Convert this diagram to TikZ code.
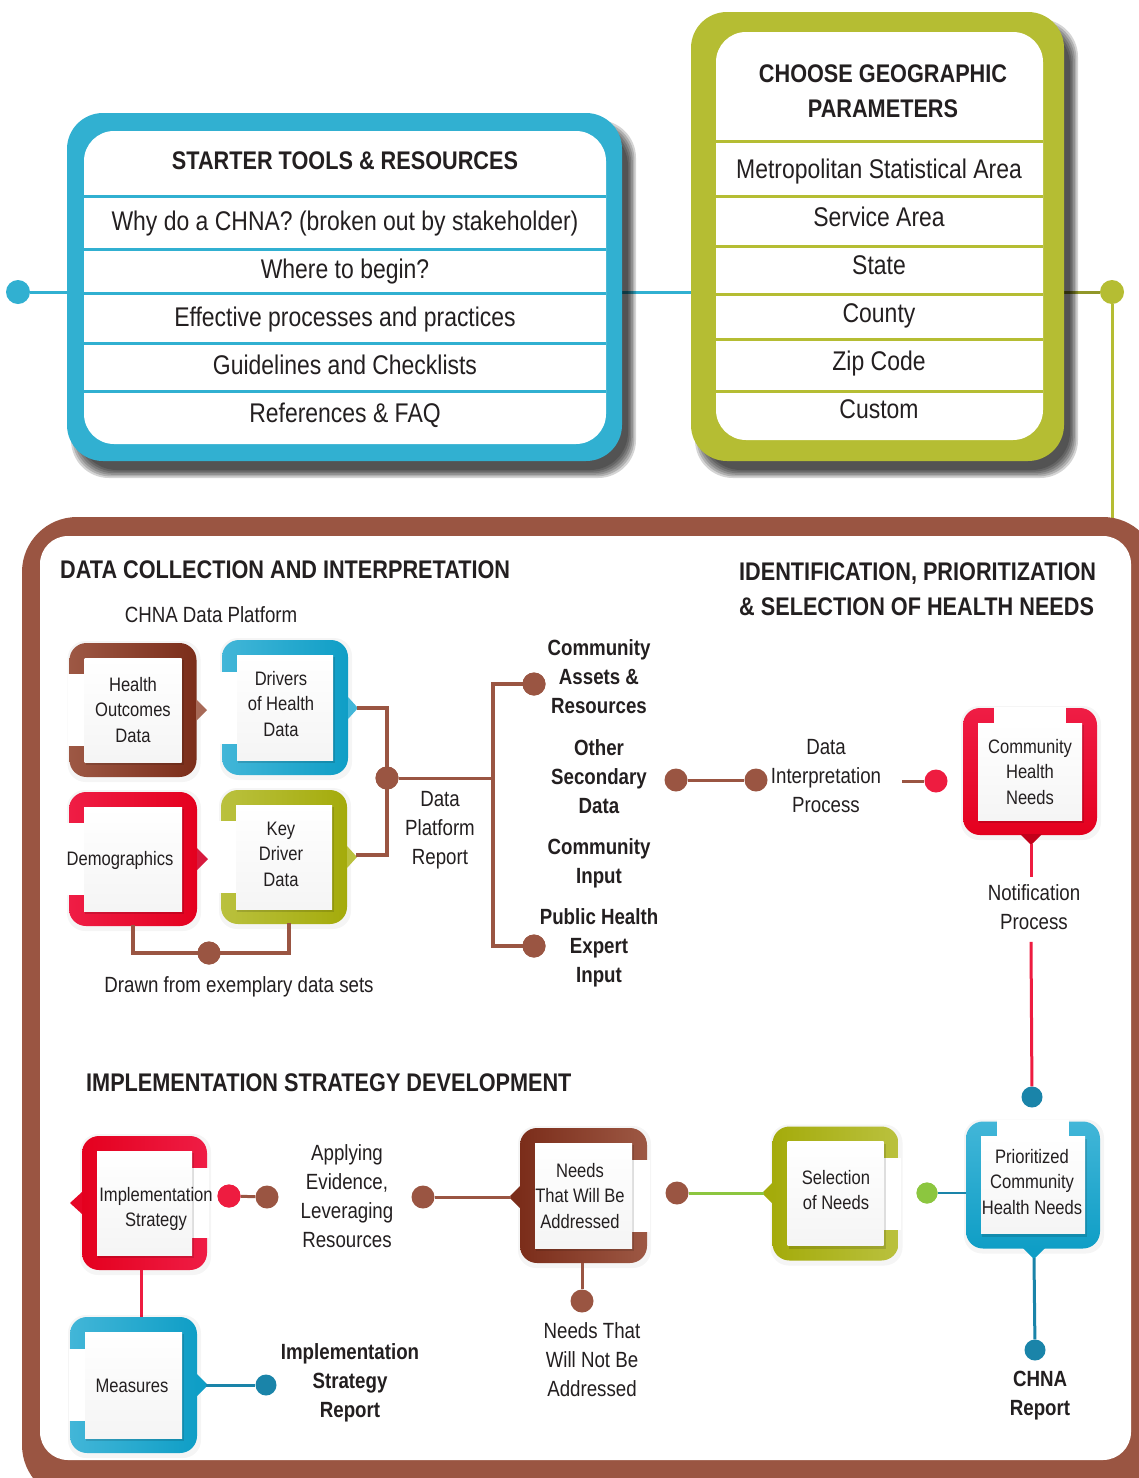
\documentclass[tikz,border=0pt]{standalone}
\usepackage{fontspec}
\setmainfont{Liberation Sans}[FakeStretch=0.85]
\usetikzlibrary{calc}
\definecolor{txt}{HTML}{231F20}
\definecolor{tblue}{HTML}{31B0D1}
\definecolor{tgreen}{HTML}{B5BD33}
\definecolor{fbrown}{HTML}{9A5542}
\definecolor{brL}{HTML}{9D5844}
\definecolor{brD}{HTML}{7B2D1A}
\definecolor{blL}{HTML}{42B6D8}
\definecolor{blD}{HTML}{0F9EC6}
\definecolor{rdL}{HTML}{EF1D45}
\definecolor{rdD}{HTML}{E4001E}
\definecolor{gnL}{HTML}{BAC13E}
\definecolor{gnD}{HTML}{A4AB0B}
\definecolor{dblue}{HTML}{1A84A9}
\definecolor{lblue}{HTML}{2A9CC2}
\definecolor{lime}{HTML}{8CC63F}
\definecolor{redl}{HTML}{EE1C40}

\newcommand\fTop{\fontsize{27}{32}\selectfont}
\newcommand\fHead{\fontsize{25.5}{35}\selectfont\bfseries}
\newcommand\fMid{\fontsize{22}{29}\selectfont}
\newcommand\fMidB{\fontsize{22}{29}\selectfont\bfseries}
\newcommand\fBox{\fontsize{19.5}{25.5}\selectfont}

% #1 name, #2 cx, #3 cy, #4 half width, #5 half height, #6 shading, #7 gap rectangle (local)
\newcommand\cfb[7]{%
  \begin{scope}[shift={(#2,#3)}]
    \fill[black,opacity=0.04,rounded corners=18pt] (-#4-2,-#5-2) rectangle (#4+4,#5+5);
    \shade[rounded corners=17pt,#6] (-#4,-#5) rectangle (#4,#5);
    \fill[white] #7;
    \fill[black,opacity=0.13] (-#4+16,-#5+17) rectangle (#4-13,#5-12);
    \node[inner sep=0pt, minimum width={(2*#4-30)*1pt}, minimum height={(2*#5-30)*1pt},
          top color=white, bottom color=black!4] (#1) at (0,0) {};
  \end{scope}}

\newcommand\bigshadow[4]{%
  \foreach \i in {0,...,5} {
    \fill[black,opacity=0.17,rounded corners=38pt]
      (#1+9-5+1.6*\i,#2+12-5+1.6*\i) rectangle (#3+9+5-1.6*\i,#4+12+5-1.6*\i);
  }}

\tikzset{
  bdot/.style={circle, fill=#1, minimum size=23pt, inner sep=0pt},
  sdot/.style={circle, fill=#1, minimum size=21pt, inner sep=0pt},
  lbl/.style={text=txt, align=center, inner sep=0pt},
  sline/.style={text height=1.31em, text depth=0pt},
  brl/.style={draw=fbrown, line width=4.5pt},
  brt/.style={draw=fbrown, line width=3pt},
  rdl/.style={draw=redl, line width=3pt},
}

\begin{document}
\begin{tikzpicture}[x=1pt,y=-1pt]
\useasboundingbox (0,0) rectangle (1139,1478);
\fill[white] (0,0) rectangle (1139,1478);

% ---------- top connectors ----------
\node[bdot=tblue, minimum size=24pt] (d1) at (18,292) {};
\coordinate (tlW) at (67,292);
\coordinate (tlE) at (622,292);
\coordinate (grW) at (691,292);
\coordinate (grE) at (1064,292);
\node[bdot=tgreen, minimum size=24pt] (d2) at (1112,292) {};
\coordinate (frT) at (1112,522);
\draw[draw=tblue, line width=3pt] (d1) -- (tlW);
\draw[draw=tblue, line width=3pt] (tlE) -- (grW);
\draw[draw=tgreen!80!black, line width=3pt] (grE) -- (d2);
\draw[draw=tgreen, line width=3pt] (d2) -- (frT);

% ---------- starter tools box ----------
\bigshadow{67}{113}{622}{461}
\fill[tblue, rounded corners=36pt] (67,113) rectangle (622,461);
\fill[white, rounded corners=30pt] (84,131) rectangle (606,444);
\foreach \yy in {196,249,293,343,391} \draw[tblue, line width=3pt] (84,\yy) -- (606,\yy);
\node[lbl, font=\fHead, sline] (tlh) at (345,163) {STARTER TOOLS \& RESOURCES};
\node[lbl, font=\fTop, sline] (tr1) at (345,224) {Why do a CHNA? (broken out by stakeholder)};
\node[lbl, font=\fTop, sline] (tr2) at (345,272) {Where to begin?};
\node[lbl, font=\fTop, sline] (tr3) at (345,320) {Effective processes and practices};
\node[lbl, font=\fTop, sline] (tr4) at (345,368) {Guidelines and Checklists};
\node[lbl, font=\fTop, sline] (tr5) at (345,416) {References \& FAQ};

% ---------- geographic box ----------
\bigshadow{691}{12}{1064}{461}
\fill[tgreen, rounded corners=36pt] (691,12) rectangle (1064,461);
\fill[white, rounded corners=30pt] (716,32) rectangle (1043,440);
\foreach \yy in {141,196,246,294,339,391} \draw[tgreen, line width=3pt] (716,\yy) -- (1043,\yy);
\node[lbl, font=\fHead] (grh) at (883,91) {CHOOSE GEOGRAPHIC\\PARAMETERS};
\node[lbl, font=\fTop, sline] (gr1) at (879,172) {Metropolitan Statistical Area};
\node[lbl, font=\fTop, sline] (gr2) at (879,220) {Service Area};
\node[lbl, font=\fTop, sline] (gr3) at (879,268) {State};
\node[lbl, font=\fTop, sline] (gr4) at (879,316) {County};
\node[lbl, font=\fTop, sline] (gr5) at (879,364) {Zip Code};
\node[lbl, font=\fTop, sline] (gr6) at (879,412) {Custom};

% ---------- big brown frame ----------
\fill[fbrown, rounded corners=55pt] (22,517) rectangle (1158,1500);
\fill[white, rounded corners=28pt] (40,536) rectangle (1131,1460);

\node[lbl, font=\fHead, sline, anchor=west] (s1) at (60,572) {DATA COLLECTION AND INTERPRETATION};
\node[lbl, font=\fHead, align=left, anchor=north west] (s2) at (739,562) {IDENTIFICATION, PRIORITIZATION\\\& SELECTION OF HEALTH NEEDS};
\node[lbl, font=\fMid, sline] (cdp) at (211,616) {CHNA Data Platform};
\node[lbl, font=\fHead, sline, anchor=west] (s3) at (86,1085) {IMPLEMENTATION STRATEGY DEVELOPMENT};

% ---------- data collection boxes ----------
\cfb{ho}{133}{710}{63.5}{67}{left color=brL, right color=brD}{(-65,-36) rectangle (-47,36)}
\cfb{dh}{285}{707.5}{63}{67.5}{left color=blL, right color=blD}{(-65,-36) rectangle (-47,36)}
\cfb{dm}{133}{859}{64}{67}{left color=rdL, right color=rdD}{(-66,-36) rectangle (-48,36)}
\cfb{kd}{284}{857}{63}{67}{left color=gnL, right color=gnD}{(-65,-36) rectangle (-47,36)}

\fill[brL!90!white] (196,699) -- (207,710) -- (196,721) -- cycle;
\fill[blL] (348,697) -- (358,708) -- (348,719) -- cycle;
\fill[rdL!90!black] (197,848) -- (208,859) -- (197,870) -- cycle;
\fill[gnL] (347,846) -- (357,857) -- (347,868) -- cycle;

\node[lbl, font=\fBox] (hot) at (133,710) {Health\\Outcomes\\Data};
\node[lbl, font=\fBox] (dht) at (281,704) {Drivers\\of Health\\Data};
\node[lbl, font=\fBox, sline] (dmt) at (120,859) {Demographics};
\node[lbl, font=\fBox] (kdt) at (281,854) {Key\\Driver\\Data};

\coordinate (dhtip) at (357,708);
\coordinate (kdtip) at (356,855);
\node[bdot=fbrown] (dp) at (387,778) {};
\draw[brl] (dhtip) -| (dp.center) |- (kdtip);
\node[bdot=fbrown] (dpb) at (387,778) {};
\coordinate (br1) at (493,778);
\node[bdot=fbrown] (ca) at (534,684) {};
\node[bdot=fbrown] (ph) at (534,946) {};
\draw[brt] (dp) -- (br1);
\draw[brl] (ca.center) -| (br1) |- (ph.center);
\node[bdot=fbrown] (ca2) at (534,684) {};
\node[bdot=fbrown] (ph2) at (534,946) {};

\coordinate (dmB) at (133,925);
\coordinate (kdB) at (289,923);
\node[bdot=fbrown] (dd) at (209,953) {};
\draw[brl] (dmB) |- (dd.center) -| (kdB);
\node[bdot=fbrown] (dd2) at (209,953) {};
\node[lbl, font=\fMid, sline] (dft) at (239,986) {Drawn from exemplary data sets};

\node[lbl, font=\fMid] (dpr) at (440,830) {Data\\Platform\\Report};
\node[lbl, font=\fMidB] (cat) at (599,677) {Community\\Assets \&\\Resources};
\node[lbl, font=\fMidB] (ost) at (599,777) {Other\\Secondary\\Data};
\node[lbl, font=\fMidB] (cit) at (599,863) {Community\\Input};
\node[lbl, font=\fMidB] (pht) at (599,948) {Public Health\\Expert\\Input};

% ---------- interpretation ----------
\node[bdot=fbrown] (os1) at (676,780) {};
\node[bdot=fbrown] (os2) at (756,780) {};
\draw[brt] (os1) -- (os2);
\node[lbl, font=\fMid] (dit) at (826,776) {Data\\Interpretation\\Process};
\coordinate (di) at (902,781);
\node[bdot=redl] (rn) at (936,781) {};
\draw[brt] (di) -- (rn);

\cfb{chn}{1030}{771.5}{67}{63.5}{top color=rdL, bottom color=rdD}{(-36,-65) rectangle (36,-47)}
\fill[rdD!85!black] (1020,834) -- (1031,845) -- (1042,834) -- cycle;
\node[lbl, font=\fBox] (chnt) at (1030,772) {Community\\Health\\Needs};
\coordinate (chntip) at (1031,844);
\node[lbl, font=\fMid] (np) at (1034,907) {Notification\\Process};
\node[sdot=dblue] (pd) at (1032,1097) {};
\draw[rdl] (chntip) -- ($(chntip |- np.north)+(0,-7)$);
\draw[rdl] ($(pd.center |- np.south)+(-1,12)$) -- (pd);

% ---------- prioritized ----------
\cfb{pch}{1033}{1185}{67}{63.5}{top color=blL, bottom color=blD}{(-36,-65) rectangle (36,-47)}
\fill[blD] (1023,1248) -- (1034,1259) -- (1045,1248) -- cycle;
\node[lbl, font=\fBox] (pcht) at (1032,1182) {Prioritized\\Community\\Health Needs};
\coordinate (pchtip) at (1034,1258);
\node[sdot=dblue] (cr) at (1035,1350) {};
\draw[draw=dblue, line width=3pt] (pchtip) -- (cr);
\node[lbl, font=\fMidB] (crt) at (1040,1396) {CHNA\\Report};
\coordinate (pchW) at (966,1193);
\node[sdot=lime] (gd) at (927,1193) {};
\draw[draw=dblue, line width=2.5pt] (gd) -- (pchW);
\node[sdot=lime] (gd2) at (927,1193) {};

% ---------- selection ----------
\cfb{sel}{835.5}{1193.5}{63}{67}{left color=gnD, right color=gnL}{(47,-36) rectangle (65,36)}
\fill[gnD] (773,1182) -- (762,1193) -- (773,1204) -- cycle;
\node[lbl, font=\fBox] (selt) at (836,1190) {Selection\\of Needs};
\coordinate (seltip) at (764,1193);
\node[bdot=fbrown] (nb) at (677,1193) {};
\draw[draw=lime, line width=3pt] (nb) -- (seltip);

% ---------- needs addressed ----------
\cfb{nwa}{583.5}{1195.5}{63.5}{67.5}{left color=brD, right color=brL}{(47,-36) rectangle (66,36)}
\fill[brD] (520,1186) -- (509,1197) -- (520,1208) -- cycle;
\node[lbl, font=\fBox] (nwat) at (580,1196) {Needs\\That Will Be\\Addressed};
\coordinate (nwatip) at (511,1197);
\node[bdot=fbrown] (ae) at (423,1197) {};
\draw[brt] (ae) -- (nwatip);
\coordinate (nwaB) at (582,1263);
\node[bdot=fbrown] (nn) at (582,1301) {};
\draw[brt] (nwaB) -- (nn);
\node[lbl, font=\fMid] (nnt) at (592,1360) {Needs That\\Will Not Be\\Addressed};
\node[lbl, font=\fMid] (aet) at (347,1196) {Applying\\Evidence,\\Leveraging\\Resources};

% ---------- implementation ----------
\cfb{ims}{144.5}{1203}{62.5}{67}{left color=rdD, right color=rdL}{(46,-35) rectangle (64,35)}
\fill[rdD!80!rdL] (82,1192) -- (70,1203) -- (82,1214) -- cycle;
\node[lbl, font=\fBox] (imst) at (156,1209) {Implementation\\Strategy};
\node[bdot=fbrown] (ib) at (267,1197) {};
\node[bdot=redl] (ir) at (229,1196) {};
\draw[brt] (ir) -- (ib);
\node[bdot=redl] (ir2) at (229,1196) {};
\coordinate (imsB) at (141,1270);
\coordinate (meaT) at (141,1318);
\draw[rdl] (imsB) -- (meaT);

\cfb{mea}{133.5}{1385}{63.5}{68}{left color=blL, right color=blD}{(-65,-36) rectangle (-47,36)}
\fill[blD] (197,1374) -- (208,1385) -- (197,1396) -- cycle;
\node[lbl, font=\fBox, sline] (meat) at (132,1386) {Measures};
\coordinate (meatip) at (206,1385);
\node[sdot=dblue] (mb) at (266,1385) {};
\draw[draw=dblue, line width=3pt] (meatip) -- (mb);
\node[lbl, font=\fMidB] (isr) at (350,1383) {Implementation\\Strategy\\Report};

\end{tikzpicture}
\end{document}
